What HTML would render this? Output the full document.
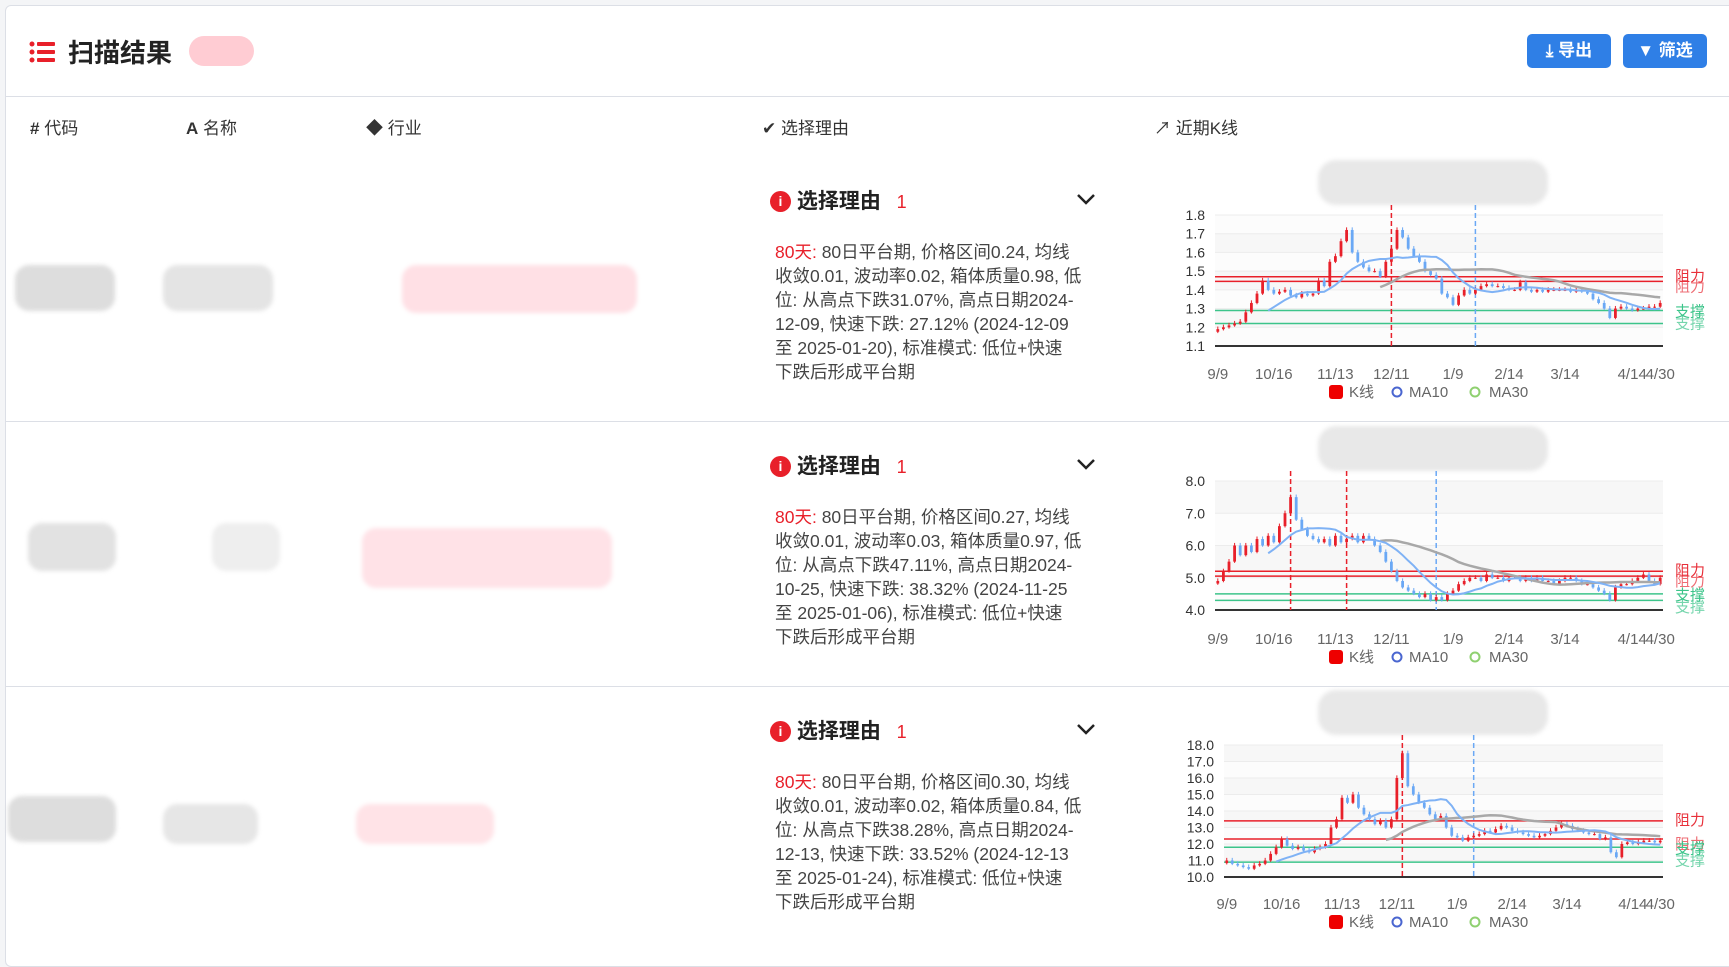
<!DOCTYPE html>
<html><head><meta charset="utf-8">
<style>
body{margin:0;width:1729px;height:942px;background:#f4f5f7;font-family:"Liberation Sans","Noto Sans CJK SC",sans-serif;overflow:hidden;position:relative}
.card{position:absolute;left:5px;top:5px;width:1740px;height:960px;background:#fff;border:1px solid #dcdfe6;border-radius:6px}
.abs{position:absolute}
.hdr{font-size:17px;color:#333;top:114px}
.blob{position:absolute;filter:blur(2px);border-radius:14px}
.reason{position:absolute;left:775px;width:330px;font-size:17.5px;line-height:24px;color:#444}
.rt{position:absolute;font-size:21px;font-weight:bold;color:#222}
.btn{position:absolute;top:34px;height:34px;border-radius:5px;background:#2f7fe6;color:#fff;font-size:17px;font-weight:bold;line-height:34px;text-align:center;width:84px}
</style></head><body>
<div class="card"></div>
<svg class="abs" style="left:28px;top:40px" width="30" height="24"><g fill="#e8202a"><circle cx="4" cy="4" r="2.5"/><circle cx="4" cy="12" r="2.5"/><circle cx="4" cy="20" r="2.5"/><rect x="9" y="2" width="18" height="4" rx="1"/><rect x="9" y="10" width="18" height="4" rx="1"/><rect x="9" y="18" width="18" height="4" rx="1"/></g></svg>
<div class="abs" style="left:68px;top:33px;font-size:26px;font-weight:bold;color:#222">扫描结果</div>
<div class="abs" style="left:189px;top:36px;width:65px;height:30px;border-radius:15px;background:#ffccd3"></div>
<div class="btn" style="left:1527px">⤓ 导出</div>
<div class="btn" style="left:1623px">▼ 筛选</div>
<div class="abs" style="left:5px;top:96px;width:1724px;height:1px;background:#dcdfe6"></div>
<div class="abs hdr" style="left:30px"><b>#</b> 代码</div>
<div class="abs hdr" style="left:186px"><b>A</b> 名称</div>
<div class="abs hdr" style="left:366px">◆ 行业</div>
<div class="abs hdr" style="left:762px">✔ 选择理由</div>
<div class="abs hdr" style="left:1154px">↗ 近期K线</div>
<div class="abs" style="left:5px;top:421px;width:1724px;height:1px;background:#dcdfe6"></div>
<div class="abs" style="left:5px;top:686px;width:1724px;height:1px;background:#dcdfe6"></div>

<div class="blob" style="left:15px;top:265px;width:100px;height:46px;background:#ddd"></div>
<div class="blob" style="left:163px;top:265px;width:110px;height:46px;background:#e4e4e4"></div>
<div class="blob" style="left:402px;top:265px;width:235px;height:48px;background:#ffe0e5"></div>
<div class="blob" style="left:28px;top:523px;width:88px;height:48px;background:#e2e2e2"></div>
<div class="blob" style="left:212px;top:523px;width:68px;height:48px;background:#eee"></div>
<div class="blob" style="left:362px;top:528px;width:250px;height:60px;background:#ffe2e7"></div>
<div class="blob" style="left:8px;top:796px;width:108px;height:46px;background:#ddd"></div>
<div class="blob" style="left:163px;top:804px;width:95px;height:40px;background:#e6e6e6"></div>
<div class="blob" style="left:356px;top:804px;width:138px;height:40px;background:#ffe3e7"></div>

<div id="reasons"></div>
<svg id="charts" class="abs" style="left:0;top:0" width="1729" height="942"></svg>

<script>
const reasonTexts=[
 ["80日平台期, 价格区间0.24, 均线","收敛0.01, 波动率0.02, 箱体质量0.98, 低","位: 从高点下跌31.07%, 高点日期2024-","12-09, 快速下跌: 27.12% (2024-12-09","至 2025-01-20), 标准模式: 低位+快速","下跌后形成平台期"],
 ["80日平台期, 价格区间0.27, 均线","收敛0.01, 波动率0.03, 箱体质量0.97, 低","位: 从高点下跌47.11%, 高点日期2024-","10-25, 快速下跌: 38.32% (2024-11-25","至 2025-01-06), 标准模式: 低位+快速","下跌后形成平台期"],
 ["80日平台期, 价格区间0.30, 均线","收敛0.01, 波动率0.02, 箱体质量0.84, 低","位: 从高点下跌38.28%, 高点日期2024-","12-13, 快速下跌: 33.52% (2024-12-13","至 2025-01-24), 标准模式: 低位+快速","下跌后形成平台期"]];
const R=document.getElementById('reasons');
reasonTexts.forEach((lines,i)=>{
 const off=i*265;
 const t=document.createElement('div');t.className='rt';t.style.left='770px';t.style.top=(185+off)+'px';
 
 
 t.innerHTML='<span style="display:inline-block;width:21px;height:21px;border-radius:50%;background:#e8202a;color:#fff;font-size:14px;line-height:21px;text-align:center;vertical-align:2px">i</span> 选择理由 <span style="color:#e8202a;font-weight:normal;font-size:18px;margin-left:10px">1</span><svg style="position:absolute;left:306px;top:8px" width="20" height="12"><polyline points="2,2 10,10 18,2" fill="none" stroke="#222" stroke-width="2.5"/></svg>';
 R.appendChild(t);
 const d=document.createElement('div');d.className='reason';d.style.top=(240+off)+'px';
 
 
 d.innerHTML='<span style="color:#e8202a">80天:</span> '+lines.join('<br>');
 R.appendChild(d);
});

const xLabels=["9/9","10/16","11/13","12/11","1/9","2/14","3/14","4/14","4/30"];
const xLabelIdx=[0,10,21,31,42,52,62,74,79];
const close1=[1.19,1.20,1.21,1.22,1.23,1.28,1.33,1.38,1.45,1.40,1.38,1.39,1.40,1.37,1.36,1.38,1.37,1.38,1.45,1.42,1.55,1.58,1.66,1.72,1.60,1.55,1.52,1.50,1.50,1.47,1.55,1.62,1.72,1.68,1.62,1.58,1.55,1.50,1.48,1.46,1.38,1.36,1.32,1.37,1.40,1.38,1.40,1.42,1.43,1.42,1.42,1.41,1.40,1.40,1.44,1.40,1.39,1.40,1.39,1.40,1.40,1.40,1.40,1.39,1.40,1.39,1.38,1.35,1.33,1.30,1.25,1.30,1.31,1.30,1.29,1.30,1.30,1.31,1.31,1.33];
const close2=[4.9,5.2,5.5,6.0,5.7,6.0,5.8,6.2,6.0,6.3,6.1,6.6,7.0,7.5,6.8,6.5,6.3,6.2,6.1,6.2,6.0,6.3,6.1,6.2,6.3,6.1,6.3,6.2,6.0,5.8,5.5,5.2,4.9,4.7,4.6,4.5,4.4,4.5,4.3,4.4,4.3,4.5,4.6,4.8,4.9,5.0,5.0,4.9,5.1,5.0,5.0,4.9,5.0,5.0,4.9,5.0,4.9,5.0,4.9,4.9,4.8,4.9,5.0,5.0,4.9,4.8,4.8,4.7,4.6,4.5,4.3,4.7,4.8,4.8,4.9,5.0,5.1,4.9,4.8,5.0];
const close3=[11.0,10.8,10.7,10.6,10.5,10.7,10.8,11.0,11.4,11.8,12.3,11.9,11.7,11.8,11.6,11.5,11.7,11.8,12.0,13.0,13.5,14.8,14.5,15.0,14.2,13.8,13.5,13.2,13.4,13.0,13.5,16.0,17.5,15.5,15.0,14.5,14.2,13.8,13.5,13.7,13.0,12.5,12.4,12.2,12.4,12.5,12.6,12.8,12.7,12.9,13.1,13.0,12.8,12.7,12.6,12.5,12.4,12.5,12.6,12.8,13.0,13.2,13.1,12.9,12.8,12.7,12.6,12.6,12.3,12.4,11.5,11.2,12.0,12.1,12.0,12.1,12.2,12.2,12.1,12.2];
const charts=[
 {close:close1,yTicks:[1.1,1.2,1.3,1.4,1.5,1.6,1.7,1.8],res:[1.47,1.445],sup:[1.29,1.22],redV:[31],blueV:[46],dec:1,x0:1215,x1:1663,yTop:215,yBot:346,lab:379,leg:397},
 {close:close2,yTicks:[4,5,6,7,8],res:[5.2,5.05],sup:[4.5,4.3],redV:[13,23],blueV:[39],dec:1,x0:1215,x1:1663,yTop:481,yBot:610,lab:644,leg:662},
 {close:close3,yTicks:[10,11,12,13,14,15,16,17,18],res:[13.4,12.3],sup:[11.8,10.9],redV:[32],blueV:[45],dec:1,x0:1224,x1:1663,yTop:745,yBot:877,lab:909,leg:927}];
const NS='http://www.w3.org/2000/svg';
const S=document.getElementById('charts');
function mk(tag,attrs,parent){const e=document.createElementNS(NS,tag);for(const k in attrs)e.setAttribute(k,attrs[k]);(parent||S).appendChild(e);return e;}
charts.forEach((c,ci)=>{
 const g=mk('g',{});
 
 
 const lo=c.yTicks[0],hi=c.yTicks[c.yTicks.length-1],n=c.close.length;
 const y=v=>c.yBot-(v-lo)/(hi-lo)*(c.yBot-c.yTop);
 const x=i=>c.x0+(i+0.5)*(c.x1-c.x0)/n;
 const bw=(c.x1-c.x0)/n*0.5;
 const tb=mk('rect',{x:1318,y:c.yTop-55,width:230,height:45,rx:18,fill:'#e8e8e8',style:'filter:blur(2px)'},g);
 
 
 for(let k=0;k<c.yTicks.length-1;k++){
  const b=mk('rect',{x:c.x0,y:y(c.yTicks[k+1]),width:c.x1-c.x0,height:y(c.yTicks[k])-y(c.yTicks[k+1]),fill:k%2?'#f7f7f7':'#fcfcfc'},g);
  
  
 }
 c.yTicks.forEach(t=>{
  mk('line',{x1:c.x0,x2:c.x1,y1:y(t),y2:y(t),stroke:'#ececec'},g);
  const tx=mk('text',{x:c.x0-10,y:y(t)+5,'text-anchor':'end','font-size':14,fill:'#333'},g);
  tx.textContent=t.toFixed(c.dec);
  
  
 });
 mk('line',{x1:c.x0,x2:c.x1,y1:c.yBot,y2:c.yBot,stroke:'#333','stroke-width':2},g);
 xLabels.forEach((l,k)=>{
  const tx=mk('text',{x:x(xLabelIdx[k]),y:c.lab,'text-anchor':'middle','font-size':15,fill:'#666'},g);
  tx.textContent=l;
  
  
 });
 c.res.forEach((v,k)=>{
  mk('line',{x1:c.x0,x2:c.x1,y1:y(v),y2:y(v),stroke:'#e8202a','stroke-width':1.5},g);
  const t=mk('text',{x:c.x1+12,y:y(v)+(k?10:4),'font-size':15,fill:'#e8303a',opacity:k?0.7:1},g);t.textContent='阻力';
  
  
 });
 c.sup.forEach((v,k)=>{
  mk('line',{x1:c.x0,x2:c.x1,y1:y(v),y2:y(v),stroke:'#3cc48a','stroke-width':1.5},g);
  const t=mk('text',{x:c.x1+12,y:y(c.sup[0])+(k?18:6),'font-size':15,fill:'#3cc48a',opacity:k?0.7:1},g);t.textContent='支撑';
  
  
 });
 c.redV.forEach(i=>mk('line',{x1:x(i),x2:x(i),y1:c.yTop-10,y2:c.yBot,stroke:'#e8202a','stroke-dasharray':'5,3','stroke-width':1.5},g));
 c.blueV.forEach(i=>mk('line',{x1:x(i),x2:x(i),y1:c.yTop-10,y2:c.yBot,stroke:'#6aa8f5','stroke-dasharray':'5,3','stroke-width':1.5},g));
 const rng=(hi-lo)*0.02;
 c.close.forEach((cl,i)=>{
  const op=i?c.close[i-1]:cl-rng;
  const up=cl>=op, col=up?'#e8202a':'#6aa8f5';
  mk('line',{x1:x(i),x2:x(i),y1:y(Math.max(op,cl)+rng),y2:y(Math.min(op,cl)-rng*0.5),stroke:col,'stroke-width':1},g);
  const r=mk('rect',{x:x(i)-bw/2,y:y(Math.max(op,cl)),width:bw,height:Math.max(1,Math.abs(y(op)-y(cl))),fill:col},g);
  
  
 });
 function ma(p){const pts=[];for(let i=p-1;i<n;i++){let s=0;for(let j=i-p+1;j<=i;j++)s+=c.close[j];pts.push(x(i)+','+y(s/p));}return pts.join(' ');}
 const m30=mk('polyline',{points:ma(30),fill:'none',stroke:'#a8a8a8','stroke-width':2.5},g);
 
 
 const m10=mk('polyline',{points:ma(10),fill:'none',stroke:'#7fb2f5','stroke-width':2},g);
 
 
 const lg=mk('g',{},g);
 
 
 mk('rect',{x:1329,y:c.leg-12,width:14,height:14,rx:3,fill:'#e00'},lg);
 let t=mk('text',{x:1349,y:c.leg,'font-size':15,fill:'#666'},lg);t.textContent='K线';
 mk('circle',{cx:1397,cy:c.leg-5,r:4.5,fill:'none',stroke:'#4a66d0','stroke-width':2},lg);
 t=mk('text',{x:1409,y:c.leg,'font-size':15,fill:'#666'},lg);t.textContent='MA10';
 mk('circle',{cx:1475,cy:c.leg-5,r:4.5,fill:'none',stroke:'#8fd070','stroke-width':2},lg);
 t=mk('text',{x:1489,y:c.leg,'font-size':15,fill:'#666'},lg);t.textContent='MA30';
});
</script>
</body></html>
